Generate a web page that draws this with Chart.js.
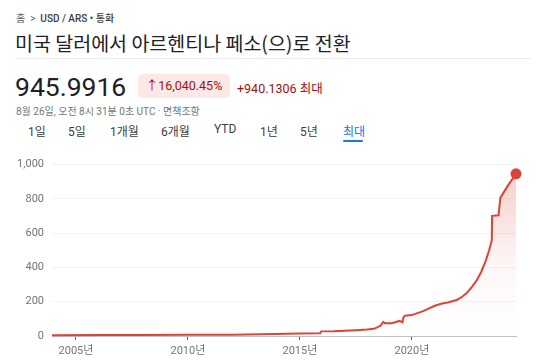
<!DOCTYPE html>
<html>
<head>
<meta charset="utf-8">
<script src="https://cdn.jsdelivr.net/npm/chart.js@4/dist/chart.umd.min.js"></script>
<style>
  body { margin: 0; width: 541px; height: 362px; background: #fff; overflow: hidden;
         font-family: Roboto, "Noto Sans CJK KR", sans-serif; color: #202124; position: relative; }
  .abs { position: absolute; white-space: nowrap; }
  #crumb { left: 16px; top: 10px; font-size: 10px; color: #5f6368; }
  #crumb b { font-weight: 500; color: #3c4043; }
  #title { left: 15px; top: 28px; font-size: 19.5px; color: #202124; font-family: "Noto Sans CJK KR", Roboto, sans-serif; font-weight: 400; }
  #rule { left: 16px; top: 58px; width: 514px; height: 1px; background: #e8eaed; }
  #price { left: 15px; top: 71px; font-size: 26.5px; color: #202124; }
  #badge { left: 138px; top: 74px; height: 24px; width: 92px; border-radius: 6px; background: #fce8e6;
           color: #a50e0e; font-size: 12.5px; line-height: 24px; text-align: center; }
  #change { left: 237px; top: 78px; font-size: 12.5px; color: #a50e0e; }
  #stamp { left: 16px; top: 103px; font-size: 10px; color: #70757a; }
  .tab { top: 122px; font-size: 12px; color: #3c4043; }
  #sel { color: #1a73e8; }
  #uline { left: 343px; top: 140px; width: 20px; height: 2px; background: #1a73e8; border-radius: 1px; }
  #wrap { position: absolute; left: 0; top: 150px; width: 541px; height: 212px; }
</style>
</head>
<body>
<div class="abs" id="crumb">홈 &nbsp;&gt;&nbsp; <b>USD / ARS • 통화</b></div>
<div class="abs" id="title">미국 달러에서 아르헨티나 페소(으)로 전환</div>
<div class="abs" id="rule"></div>
<div class="abs" id="price">945.9916</div>
<div class="abs" id="badge">↑16,040.45%</div>
<div class="abs" id="change">+940.1306 최대</div>
<div class="abs" id="stamp">8월 26일, 오전 8시 31분 0초 UTC · 면책조항</div>
<div class="abs tab" style="left:28px">1일</div>
<div class="abs tab" style="left:68px">5일</div>
<div class="abs tab" style="left:110px">1개월</div>
<div class="abs tab" style="left:161px">6개월</div>
<div class="abs tab" style="left:214px">YTD</div>
<div class="abs tab" style="left:260px">1년</div>
<div class="abs tab" style="left:300px">5년</div>
<div class="abs tab" id="sel" style="left:343px">최대</div>
<div class="abs" id="uline"></div>
<div id="wrap"><canvas id="chart" width="541" height="212"></canvas></div>

<script>
// Dates as decimal years, rate in ARS per USD
const dates = [2003.93, 2006.0, 2008.0, 2010.0, 2012.0, 2013.9, 2015.0, 2015.9, 2015.95, 2016.5,
               2017.0, 2017.5, 2018.0, 2018.3, 2018.45, 2018.6, 2018.72, 2018.8, 2019.1, 2019.35,
               2019.45, 2019.58, 2019.63, 2019.7, 2020.0, 2020.5, 2021.0, 2021.3, 2021.6, 2022.0,
               2022.2, 2022.45, 2022.7, 2022.9, 2023.1, 2023.3, 2023.45, 2023.57, 2023.58, 2023.87,
               2023.95, 2024.3, 2024.65];
const rates = [5, 5.5, 6, 7, 8, 12, 14, 16, 27, 28,
               31, 34, 38, 42, 50, 60, 82, 74, 75, 85,
               88, 80, 112, 118, 122, 145, 175, 188, 196, 210,
               225, 250, 290, 326, 375, 440, 500, 559, 701, 704,
               806, 880, 945.99];
const xTicks = [2005, 2010, 2015, 2020];
const yTicks = [0, 200, 400, 600, 800, 1000];

const lineRed = '#db4437';
const lastIdx = rates.length - 1;

const ctx = document.getElementById('chart').getContext('2d');
new Chart(ctx, {
    type: 'line',
    data: {
        datasets: [{
            data: dates.map((d, i) => ({ x: d, y: rates[i] })),
            borderColor: lineRed,
            borderWidth: 2,
            tension: 0,
            clip: false,
            fill: 'origin',
            backgroundColor: (c) => {
                const area = c.chart.chartArea;
                if (!area) return 'rgba(219,68,55,0.1)';
                const g = c.chart.ctx.createLinearGradient(0, area.top, 0, area.bottom);
                g.addColorStop(0, 'rgba(219,68,55,0.28)');
                g.addColorStop(0.6, 'rgba(219,68,55,0.04)');
                g.addColorStop(1, 'rgba(219,68,55,0)');
                return g;
            },
            pointRadius: (c) => c.dataIndex === lastIdx ? 4.5 : 0,
            pointHoverRadius: 0,
            pointBackgroundColor: lineRed,
            pointBorderColor: lineRed
        }]
    },
    options: {
        responsive: false,
        animation: false,
        layout: { padding: { top: 14, right: 25, left: 0, bottom: 0 } },
        plugins: { legend: { display: false }, tooltip: { enabled: false } },
        scales: {
            x: {
                type: 'linear',
                min: dates[0],
                max: dates[lastIdx],
                afterBuildTicks: (axis) => { axis.ticks = xTicks.map(v => ({ value: v })); },
                afterFit: (axis) => { axis.height = 26; },
                grid: { drawOnChartArea: false, drawTicks: true, tickLength: 4, color: '#5f6368' },
                border: { display: true, color: '#bdc1c6', width: 1 },
                ticks: {
                    padding: 5,
                    color: '#70757a',
                    font: { family: 'Roboto, "Noto Sans CJK KR"', size: 11 },
                    maxRotation: 0,
                    callback: (v) => v + '년'
                }
            },
            y: {
                min: 0,
                max: 1000,
                afterBuildTicks: (axis) => { axis.ticks = yTicks.map(v => ({ value: v })); },
                afterFit: (axis) => { axis.width = 52; },
                grid: { color: '#f1f3f4', drawTicks: false },
                border: { display: false },
                ticks: {
                    padding: 8,
                    color: '#70757a',
                    font: { family: 'Roboto, "Noto Sans CJK KR"', size: 11 },
                    callback: (v) => v.toLocaleString('en-US')
                }
            }
        }
    }
});
</script>
</body>
</html>
